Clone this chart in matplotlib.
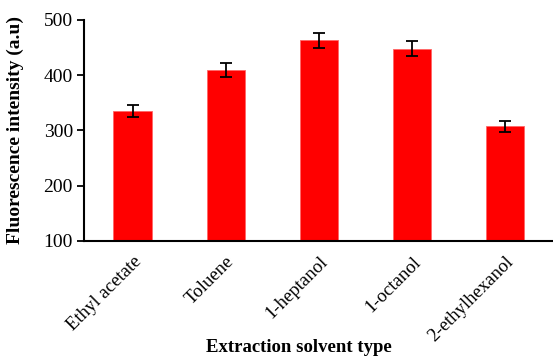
import numpy as np
import matplotlib.pyplot as plt

plt.rcParams['font.family'] = ['Liberation Serif', 'DejaVu Serif']

# Data ---------------------------------------------------------------
solvents = ["Ethyl acetate", "Toluene", "1-heptanol", "1-octanol", "2-ethylhexanol"]
intensity = [336, 410, 463, 448, 308]
errors = [11, 13, 14, 14, 10]

# Plot ---------------------------------------------------------------
fig = plt.figure(figsize=(5.53, 3.57), dpi=100)
ax = fig.add_axes([0.152, 0.325, 0.846, 0.619])

x = np.arange(len(solvents))
ax.bar(x, intensity, width=0.41, color="#ff0000", edgecolor="#ff6666", linewidth=0.6,
       yerr=errors, capsize=4, error_kw=dict(ecolor="black", elinewidth=1.3, capthick=1.3))

ax.set_xlim(-0.52, 4.5)
ax.set_ylim(100, 500)
ax.set_yticks([100, 200, 300, 400, 500])
ax.set_xticks(x)
ax.set_xticklabels(solvents, rotation=45, ha="right", rotation_mode="anchor")
ax.tick_params(axis="x", length=0, labelsize=13.5, pad=9)
ax.tick_params(axis="y", length=5, width=1.3, labelsize=14, pad=3)

for s in ["top", "right"]:
    ax.spines[s].set_visible(False)
ax.spines["left"].set_linewidth(1.5)
ax.spines["bottom"].set_linewidth(1.5)

ax.set_ylabel("Fluorescence intensity (a.u)", fontsize=14, fontweight="bold")
ax.set_xlabel("Extraction solvent type", fontsize=13.5, fontweight="bold")
ax.yaxis.set_label_coords(-0.128, 0.5)
ax.xaxis.set_label_coords(0.46, -0.445)

fig.savefig("out.png", dpi=100)
